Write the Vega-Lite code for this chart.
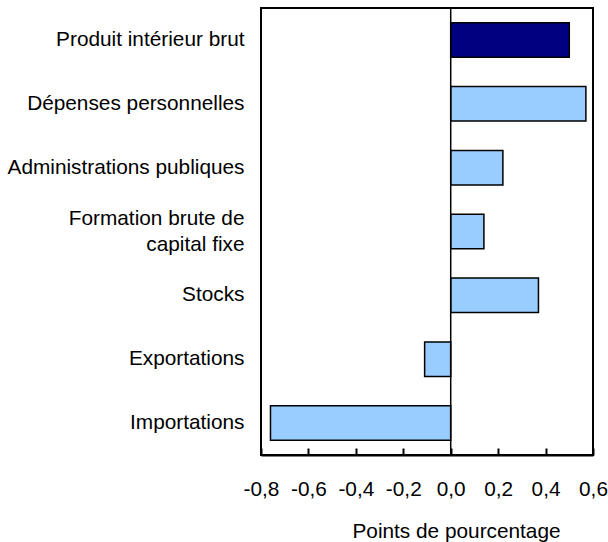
{
  "$schema": "https://vega.github.io/schema/vega-lite/v6.json",
  "width": 332,
  "height": 447,
  "autosize": {"type": "none"},
  "padding": {"left": 261, "top": 8, "right": 15, "bottom": 87},
  "background": "white",
  "config": {
    "font": "Liberation Sans",
    "view": {"stroke": "black", "strokeWidth": 2},
    "locale": {"number": {"decimal": ",", "thousands": " ", "grouping": [3], "currency": ["", ""], "minus": "-"}}
  },
  "data": {
    "values": [
      {"categorie": "Produit intérieur brut", "valeur": 0.50, "type": "PIB"},
      {"categorie": "Dépenses personnelles", "valeur": 0.57, "type": "Composante"},
      {"categorie": "Administrations publiques", "valeur": 0.22, "type": "Composante"},
      {"categorie": "Formation brute de capital fixe", "valeur": 0.14, "type": "Composante"},
      {"categorie": "Stocks", "valeur": 0.37, "type": "Composante"},
      {"categorie": "Exportations", "valeur": -0.11, "type": "Composante"},
      {"categorie": "Importations", "valeur": -0.76, "type": "Composante"}
    ]
  },
  "layer": [
    {
      "mark": {"type": "bar", "stroke": "black", "strokeWidth": 1.5},
      "encoding": {
        "y": {
          "field": "categorie",
          "type": "nominal",
          "sort": null,
          "scale": {"paddingInner": 0.46, "paddingOuter": 0.23},
          "axis": {
            "title": null,
            "ticks": false,
            "domain": false,
            "labelPadding": 17,
            "labelFontSize": 20.8,
            "labelColor": "black",
            "labelLimit": 300,
            "labelLineHeight": 26,
            "labelOffset": {"expr": "datum.value == 'Formation brute de capital fixe' ? -13 : 0"},
            "labelExpr": "datum.label == 'Formation brute de capital fixe' ? ['Formation brute de', 'capital fixe'] : datum.label"
          }
        },
        "x": {
          "field": "valeur",
          "type": "quantitative",
          "scale": {"domain": [-0.8, 0.6], "nice": false},
          "axis": {
            "title": "Points de pourcentage",
            "titleFontSize": 20.8,
            "titleFontWeight": "normal",
            "titleColor": "black",
            "titleX": 195,
            "titlePadding": 23,
            "values": [-0.8, -0.6, -0.4, -0.2, 0, 0.2, 0.4, 0.6],
            "format": ".1f",
            "grid": false,
            "domainColor": "black",
            "domainWidth": 2,
            "tickColor": "black",
            "tickWidth": 2,
            "tickSize": -7,
            "labelPadding": 31,
            "labelFontSize": 20.8,
            "labelColor": "black",
            "labelFlush": false
          }
        },
        "color": {
          "field": "type",
          "type": "nominal",
          "scale": {"domain": ["PIB", "Composante"], "range": ["#000080", "#99CCFF"]},
          "legend": null
        }
      }
    },
    {
      "data": {"values": [{"zero": 0}]},
      "mark": {"type": "rule", "color": "black", "strokeWidth": 1.5},
      "encoding": {"x": {"field": "zero", "type": "quantitative"}}
    }
  ]
}
